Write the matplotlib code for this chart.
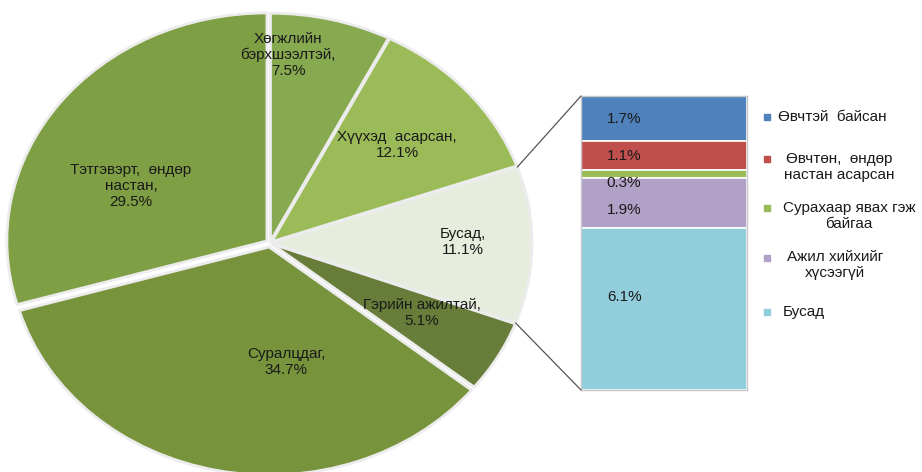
import numpy as np
import matplotlib.pyplot as plt
from matplotlib.patches import ConnectionPatch

plt.rcParams['font.family'] = ['Liberation Sans', 'DejaVu Sans']

# pie slices (clockwise from top)
pie_names = ['Хөгжлийн\nбэрхшээлтэй', 'Хүүхэд  асарсан', 'Бусад',
             'Гэрийн ажилтай', 'Суралцдаг', 'Тэтгэвэрт,  өндөр\nнастан']
pie_values = [7.5, 12.1, 11.1, 5.1, 34.7, 29.5]
pie_colors = ['#87a94f', '#9bbb59', '#e7eddc', '#687d39', '#77933c', '#7f9f45']
pie_explode = [0.008, 0.008, 0.008, 0.008, 0.018, 0.015]

# breakdown of "Бусад" (top to bottom)
bar_names = ['Өвчтэй  байсан', 'Өвчтөн,  өндөр\nнастан асарсан',
             'Сурахаар явах гэж\nбайгаа', 'Ажил хийхийг\nхүсээгүй', 'Бусад']
bar_values = [1.7, 1.1, 0.3, 1.9, 6.1]
bar_colors = ['#4f81bd', '#c0504d', '#9bbb59', '#b2a1c7', '#92cddc']

W, H = 922, 472
FS = 11
fig = plt.figure(figsize=(W / 100, H / 100), dpi=100)


def px_axes(x0, y0, x1, y1):
    return fig.add_axes([x0 / W, 1 - y1 / H, (x1 - x0) / W, (y1 - y0) / H])


# pie: the original is stretched horizontally
cx, cy, rx, ry, L = 270, 243, 260, 228, 1.15
ax = px_axes(cx - rx * L, cy - ry * L, cx + rx * L, cy + ry * L)
wedges, _ = ax.pie(pie_values, colors=pie_colors, startangle=90, counterclock=False,
                   explode=pie_explode,
                   wedgeprops=dict(edgecolor='#ececec', linewidth=2.0))
ax.set_aspect('auto')
ax.set_xlim(-L, L)
ax.set_ylim(-L, L)
ax.axis('off')

label_px = [(288, 55), (397, 145), (463, 242), (422, 313), (286, 362), (131, 186)]
for name, v, (px, py) in zip(pie_names, pie_values, label_px):
    ax.text((px - cx) / rx, (cy - py) / ry, f'{name},\n{v}%', ha='center', va='center',
            fontsize=FS, color='#1a1a1a', linespacing=1.2)

# stacked bar
bx = px_axes(581, 96, 747, 390)
total = sum(bar_values)
bottoms = np.concatenate([[0], np.cumsum(bar_values)[:-1]])
bx.bar([0.5] * len(bar_values), bar_values, width=1, bottom=bottoms,
       color=bar_colors, edgecolor='white', linewidth=1.2)
bx.set_xlim(0, 1)
bx.set_ylim(total, 0)
bx.set_xticks([])
bx.set_yticks([])
for s in bx.spines.values():
    s.set_color('#c8c8c8')
    s.set_linewidth(1.0)

label_shift = [0, 0, 9, 7, -12]  # pixel nudges as in the source
for v, b, d in zip(bar_values, bottoms, label_shift):
    bx.annotate(f'{v}%', (0.26, b + v / 2), xytext=(0, -d), textcoords='offset pixels',
                ha='center', va='center', fontsize=FS, color='#1a1a1a')

# connectors from the "Бусад" slice to the bar
th1 = 90 - 360 * sum(pie_values[:2]) / 100
th2 = th1 - 360 * pie_values[2] / 100
e = pie_explode[2]
mid = np.deg2rad((th1 + th2) / 2)
for th, yb in [(th1, 0), (th2, total)]:
    t = np.deg2rad(th)
    p = (np.cos(t) + e * np.cos(mid), np.sin(t) + e * np.sin(mid))
    con = ConnectionPatch(xyA=p, coordsA=ax.transData, xyB=(0, yb), coordsB=bx.transData,
                          color='#555555', linewidth=0.9)
    fig.add_artist(con)

# legend
leg = fig.add_axes([0, 0, 1, 1])
leg.set_xlim(0, W)
leg.set_ylim(H, 0)
leg.axis('off')
marker_y = [117, 159, 208, 258, 312]
text_pos = [(778, 117, 'left'), (839, 167, 'center'), (849, 216, 'center'),
            (835, 265, 'center'), (783, 312, 'left')]
for name, c, my, (tx, ty, ha) in zip(bar_names, bar_colors, marker_y, text_pos):
    leg.scatter([767], [my], marker='s', s=22, color=c)
    leg.text(tx, ty, name, ha=ha, va='center', fontsize=FS, color='#1a1a1a',
             multialignment='center', linespacing=1.2)

fig.savefig('out.png', dpi=100)
